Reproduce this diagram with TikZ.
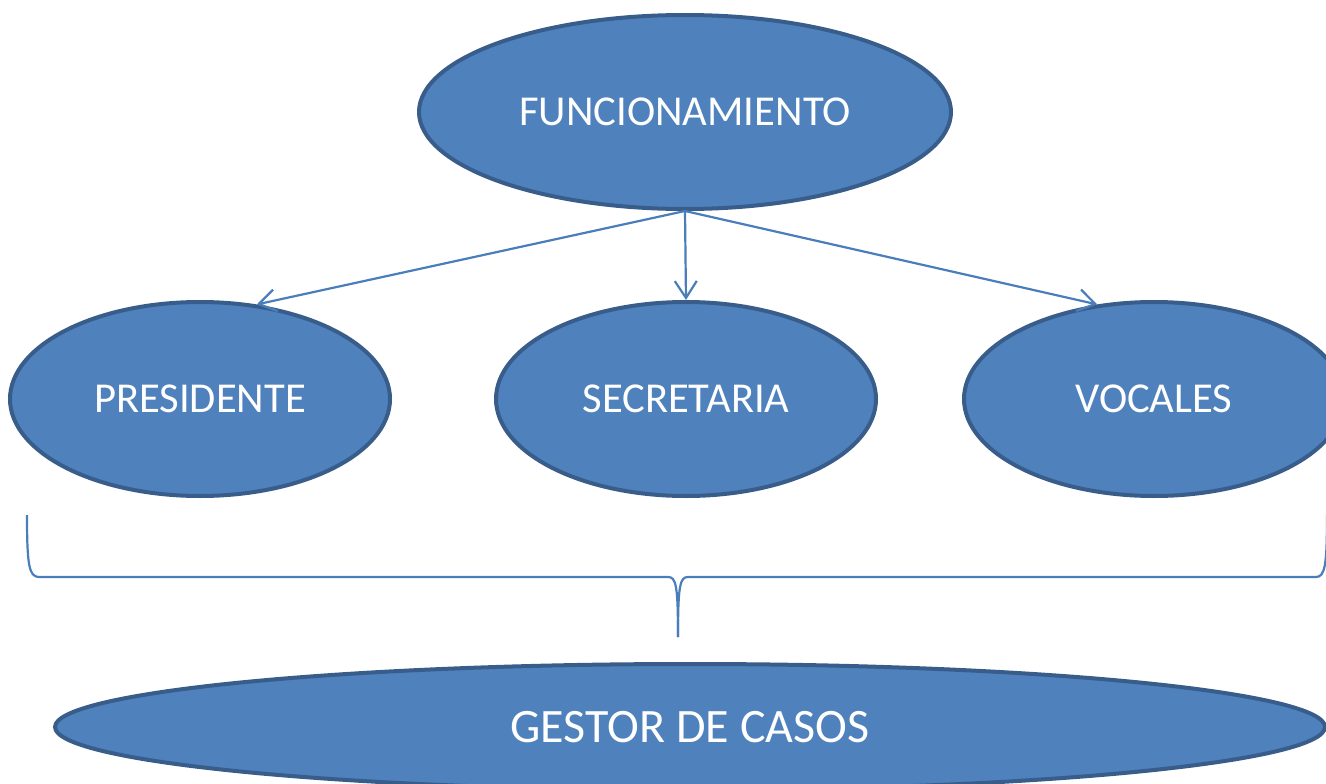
\documentclass[tikz,border=0pt]{standalone}
\usepackage{fontspec}
\setmainfont{Carlito}
\usetikzlibrary{shapes.geometric,arrows.meta}
\definecolor{officeblue}{HTML}{4F81BD}
\definecolor{officeedge}{HTML}{385D8A}
\definecolor{linkblue}{HTML}{4A7EBB}
\begin{document}
\begin{tikzpicture}[x=1pt,y=-1pt,
    role/.style={ellipse, draw=officeedge, line width=4pt, fill=officeblue, text=white, inner sep=0pt, minimum width=380pt, minimum height=194pt, font=\fontsize{42.6}{48}\selectfont},
    link/.style={draw=linkblue, line width=2.2pt, -{Straight Barb[length=17pt,width=22pt]}},
    bracket/.style={draw=linkblue, line width=2.2pt}]
    \useasboundingbox (0,0) rectangle (1326,784);

    \node (fun) [role, minimum width=532pt] at (685,112) {FUNCIONAMIENTO};
    \node (pres) [role] at (200,399) {PRESIDENTE};
    \node (sec) [role] at (686,399) {SECRETARIA};
    \node (voc) [role] at (1154,399) {VOCALES};
    \node (gestor) [role, minimum width=1270pt, minimum height=126pt, font=\fontsize{48}{54}\selectfont] at (690,727) {GESTOR DE CASOS};

    \draw [link] (fun.south) -- (pres.59);
    \draw [link] (fun.south) -- (sec.north);
    \draw [link] (fun.south) -- (voc.121);

    % brace over the three roles
    \coordinate (braceL) at (27,515);
    \coordinate (braceR) at (1327,515);
    \coordinate (braceTip) at (678,637);
    \draw [bracket] (braceL) .. controls (27,565) and (29,577) .. (39,577) -- (668,577) .. controls (676,577) and (678,585) .. (braceTip);
    \draw [bracket] (braceR) .. controls (1327,565) and (1325,577) .. (1316,577) -- (688,577) .. controls (680,577) and (678,585) .. (braceTip);
\end{tikzpicture}
\end{document}
